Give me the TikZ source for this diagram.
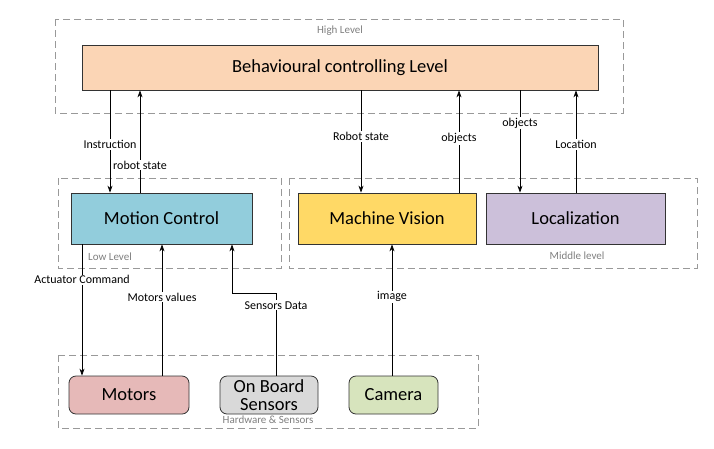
\documentclass[tikz,border=0pt]{standalone}
\usepackage{fontspec}
\setmainfont{Carlito}
\usetikzlibrary{arrows.meta}
\definecolor{peach}{HTML}{FBD5B5}
\definecolor{mc}{HTML}{92CDDC}
\definecolor{mv}{HTML}{FFD966}
\definecolor{loc}{HTML}{CCC0DA}
\definecolor{mot}{HTML}{E6B9B8}
\definecolor{obs}{HTML}{D9D9D9}
\definecolor{cam}{HTML}{D7E4BD}
\begin{document}
\begin{tikzpicture}[x=1pt,y=-1pt,
  grp/.style={draw=gray!80,dashed,dash pattern=on 7pt off 4pt,line width=0.7pt},
  grplab/.style={text=gray,font=\fontsize{11}{13}\selectfont},
  blk/.style={draw=black!80,line width=0.8pt,font=\fontsize{18.5}{21}\selectfont},
  hw/.style={blk,rounded corners=7pt},
  lab/.style={fill=white,inner sep=1pt,font=\fontsize{12}{14}\selectfont},
  arr/.style={-{Stealth[length=7pt,width=5pt]},line width=0.7pt}]
\useasboundingbox[fill=white] (0,0) rectangle (714,448);
% groups
\draw[grp] (55,19) rectangle (623,113);
\node[grplab] (hl) at (340,31) {High Level};
\draw[grp] (58,178) rectangle (281,268);
\node[grplab] (ll) at (110,257) {Low Level};
\draw[grp] (289,178) rectangle (697,268);
\node[grplab] (ml) at (577,256) {Middle level};
\draw[grp] (58,355) rectangle (478,428);
\node[grplab] (hs) at (268,420) {Hardware \& Sensors};
% blocks
\node[blk,fill=peach,minimum width=516pt,minimum height=45pt] (beh) at (340,67.5) {Behavioural controlling Level};
\node[blk,fill=mc,minimum width=181pt,minimum height=51pt] (mcn) at (161.5,218.5) {Motion Control};
\node[blk,fill=mv,minimum width=178pt,minimum height=51pt] (mvn) at (387,218.5) {Machine Vision};
\node[blk,fill=loc,minimum width=179pt,minimum height=51pt] (locn) at (575.5,218.5) {Localization};
\node[hw,fill=mot,minimum width=120pt,minimum height=38pt] (motn) at (129,395) {Motors};
\node[hw,fill=obs,minimum width=98pt,minimum height=38pt,inner sep=1pt,align=center,font=\fontsize{18.5}{18}\selectfont] (obsn) at (269,395) {On Board\\Sensors};
\node[hw,fill=cam,minimum width=89pt,minimum height=38pt] (camn) at (393.5,395) {Camera};
% arrows
\draw[arr] (beh.south -| 110,0) -- node[lab,pos=0.53]{Instruction} (mcn.north -| 110,0);
\draw[arr] (mcn.north -| 140,0) -- node[lab,pos=0.27]{robot state} (beh.south -| 140,0);
\draw[arr] (beh.south -| 361,0) -- node[lab,pos=0.45]{Robot state} (mvn.north -| 361,0);
\draw[arr] (mvn.north -| 459,0) -- node[lab,pos=0.53]{objects} (beh.south -| 459,0);
\draw[arr] (beh.south -| 520,0) -- node[lab,pos=0.32]{objects} (locn.north -| 520,0);
\draw[arr] (locn.north -| 576,0) -- node[lab,pos=0.47]{Location} (beh.south -| 576,0);
\draw[arr] (mcn.south -| 82,0) -- node[lab,pos=0.27]{Actuator Command} (motn.north -| 82,0);
\draw[arr] (motn.north -| 162,0) -- node[lab,pos=0.6]{Motors values} (mcn.south -| 162,0);
\coordinate (sd1) at (276,293);
\coordinate (sd2) at (232,293);
\draw[arr] (obsn.north -| 276,0) -- node[lab,pos=0.85]{Sensors Data} (sd1) -- (sd2) -- (mcn.south -| 232,0);
\draw[arr] (camn.north -| 392,0) -- node[lab,pos=0.6]{image} (mvn.south -| 392,0);
\end{tikzpicture}
\end{document}
